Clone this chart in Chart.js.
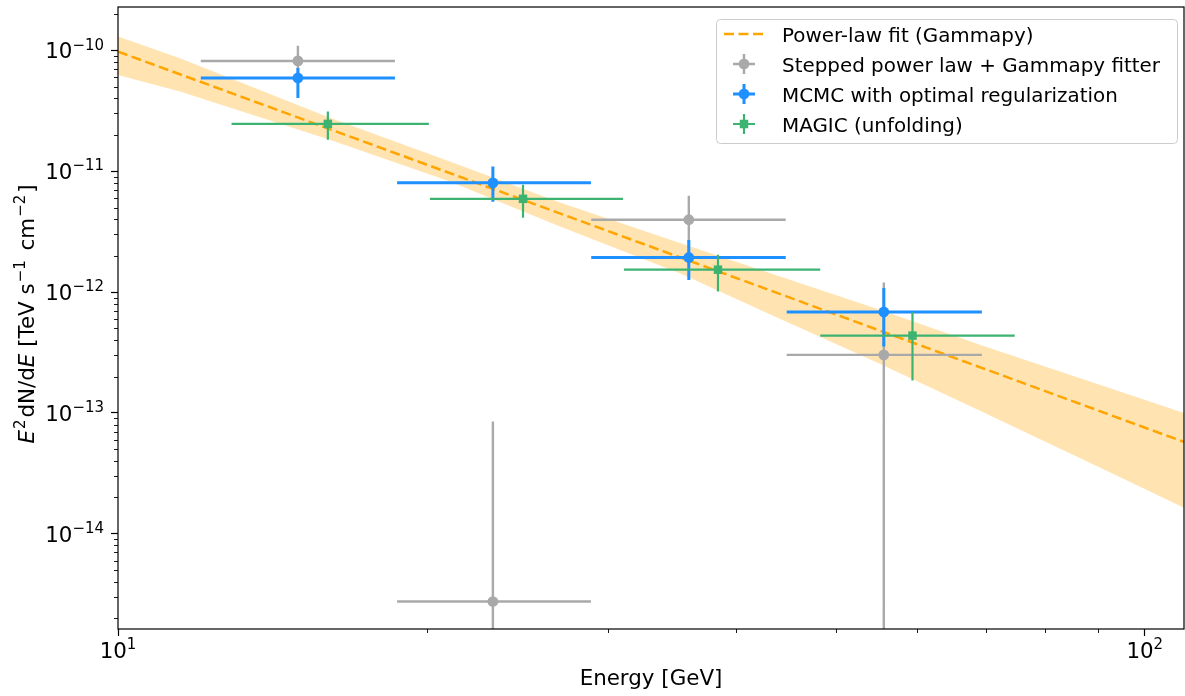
<!DOCTYPE html>
<html>
<head>
<meta charset="utf-8">
<script src="https://cdn.jsdelivr.net/npm/chart.js@4.4.1/dist/chart.umd.min.js"></script>
<style>
    html, body { margin: 0; padding: 0; background: #fff; }
    #wrap { width: 1185px; height: 696px; }
</style>
</head>
<body>
<div id="wrap"><canvas id="sed-chart_" width="1185" height="696"></canvas></div>
<script>
// energy in GeV, flux as E^2 dN/dE in TeV s^-1 cm^-2

const fitEnergy = [10, 109.2];
const fitFlux = [9.75e-11, 5.75e-14];

const bandEnergy = [10, 11.49, 16.08, 21.05, 26.94, 35.26, 42.18, 55.2, 69.1, 90.4, 109.2];
const bandHigh = [1.30e-10, 8.6e-11, 2.76e-11, 1.20e-11, 5.5e-12, 2.55e-12, 1.53e-12, 7.14e-13, 3.66e-13, 1.71e-13, 1.0e-13];
const bandLow = [6.25e-11, 4.55e-11, 1.82e-11, 8.2e-12, 3.48e-12, 1.43e-12, 7.13e-13, 2.55e-13, 1.04e-13, 3.53e-14, 1.64e-14];

// stepped power law + gammapy fitter (0 = lower error runs off the axis)
const stepE = [14.97, 23.18, 35.97, 55.7];
const stepEmin = [12.04, 18.7, 28.9, 44.8];
const stepEmax = [18.61, 28.88, 44.7, 69.4];
const stepFlux = [8.16e-11, 2.75e-15, 3.96e-12, 3.02e-13];
const stepFluxMin = [5.42e-11, 0, 1.67e-12, 0];
const stepFluxMax = [1.09e-10, 8.5e-14, 6.25e-12, 1.2e-12];

// MCMC with optimal regularization
const mcmcE = [14.97, 23.18, 35.97, 55.7];
const mcmcEmin = [12.04, 18.7, 28.9, 44.8];
const mcmcEmax = [18.61, 28.88, 44.7, 69.4];
const mcmcFlux = [5.9e-11, 8.0e-12, 1.93e-12, 6.84e-13];
const mcmcFluxMin = [4.03e-11, 5.57e-12, 1.26e-12, 3.55e-13];
const mcmcFluxMax = [7.14e-11, 1.09e-11, 2.69e-12, 1.08e-12];

// MAGIC unfolding
const magicE = [16.01, 24.8, 38.4, 59.4];
const magicEmin = [12.9, 20.13, 31.1, 48.3];
const magicEmax = [20.08, 31.03, 48.3, 74.7];
const magicFlux = [2.46e-11, 5.9e-12, 1.53e-12, 4.36e-13];
const magicFluxMin = [1.82e-11, 4.11e-12, 1.01e-12, 1.85e-13];
const magicFluxMax = [3.11e-11, 7.71e-12, 2.03e-12, 6.84e-13];

// tick labels as [base, exponent]
const xTickValues = [10, 100];
const xTickLabels = [['10', '1'], ['10', '2']];
const yTickValues = [1e-14, 1e-13, 1e-12, 1e-11, 1e-10];
const yTickLabels = [['10', '−14'], ['10', '−13'], ['10', '−12'], ['10', '−11'], ['10', '−10']];

const legendLabels = ['Power-law fit (Gammapy)', 'Stepped power law + Gammapy fitter',
    'MCMC with optimal regularization', 'MAGIC (unfolding)'];

const FONT = 'DejaVu Sans';
const FS = 21.4;
const ORANGE = '#ffa500';
const GREY = '#a9a9a9';
const BLUE = '#1e90ff';
const GREEN = '#3cb371';

function pts(xs, ys) {
    return xs.map((x, i) => ({x: x, y: ys[i]}));
}

function minorTicks(lo, hi) {
    const out = [];
    for (let d = Math.floor(Math.log10(lo)); d <= Math.ceil(Math.log10(hi)); d++) {
        for (let m = 2; m <= 9; m++) {
            const v = m * Math.pow(10, d);
            if (v > lo && v < hi) out.push(v);
        }
    }
    return out;
}

// text with italic / superscript pieces; align: 'center' | 'right'
function drawRich(ctx, parts, x, y, size, align) {
    let w = 0;
    const items = parts.map(p => {
        const s = p.sup ? size * 0.7 : size;
        const font = (p.it ? 'italic ' : '') + s + 'px "' + FONT + '"';
        ctx.font = font;
        const width = ctx.measureText(p.t).width + (p.gap || 0);
        w += width;
        return {t: p.t, font: font, width: width, dy: p.sup ? -size * 0.4 : 0};
    });
    let cx = align === 'right' ? x - w : x - w / 2;
    ctx.textAlign = 'left';
    ctx.textBaseline = 'alphabetic';
    items.forEach(it => {
        ctx.font = it.font;
        ctx.fillText(it.t, cx, y + it.dy);
        cx += it.width;
    });
}

// error bars, drawn just under each series' markers
const errorBars = {
    id: 'errorBars',
    beforeDatasetDraw(chart, args) {
        const ds = chart.data.datasets[args.index];
        if (!ds.err) return;
        const {ctx, chartArea: a} = chart;
        const xs = chart.scales.x, ys = chart.scales.y;
        const e = ds.err;
        ctx.save();
        ctx.beginPath();
        ctx.rect(a.left, a.top, a.right - a.left, a.bottom - a.top);
        ctx.clip();
        ctx.strokeStyle = ds.backgroundColor;
        ctx.lineWidth = e.width;
        ctx.beginPath();
        ds.data.forEach((p, i) => {
            const px = xs.getPixelForValue(p.x);
            const py = ys.getPixelForValue(p.y);
            ctx.moveTo(xs.getPixelForValue(e.xmin[i]), py);
            ctx.lineTo(xs.getPixelForValue(e.xmax[i]), py);
            const lo = e.ymin[i] > 0 ? ys.getPixelForValue(e.ymin[i]) : a.bottom + 5;
            ctx.moveTo(px, lo);
            ctx.lineTo(px, ys.getPixelForValue(e.ymax[i]));
        });
        ctx.stroke();
        ctx.restore();
    }
};

function drawMarker(ctx, style, color, r, x, y) {
    ctx.fillStyle = color;
    ctx.beginPath();
    if (style === 'rect') {
        const s = r * Math.SQRT1_2;
        ctx.rect(x - s, y - s, 2 * s, 2 * s);
    } else {
        ctx.arc(x, y, r, 0, Math.PI * 2);
    }
    ctx.fill();
}

const frameAndText = {
    id: 'frameAndText',
    afterDatasetsDraw(chart) {
        const {ctx, chartArea: a} = chart;
        const xs = chart.scales.x, ys = chart.scales.y;
        ctx.save();
        // minor ticks
        ctx.strokeStyle = '#000';
        ctx.lineWidth = 0.9;
        ctx.beginPath();
        minorTicks(xs.min, xs.max).forEach(v => {
            const px = Math.round(xs.getPixelForValue(v)) + 0.5;
            ctx.moveTo(px, a.bottom);
            ctx.lineTo(px, a.bottom + 4);
        });
        minorTicks(ys.min, ys.max).forEach(v => {
            const py = Math.round(ys.getPixelForValue(v)) + 0.5;
            ctx.moveTo(a.left, py);
            ctx.lineTo(a.left - 4, py);
        });
        ctx.stroke();

        // spines
        ctx.lineWidth = 1.2;
        ctx.strokeRect(a.left, a.top, a.right - a.left, a.bottom - a.top);

        // tick labels
        ctx.fillStyle = '#000';
        xTickValues.forEach((v, i) => {
            drawRich(ctx, [{t: xTickLabels[i][0]}, {t: xTickLabels[i][1], sup: true}],
                xs.getPixelForValue(v), a.bottom + 29, FS, 'center');
        });
        yTickValues.forEach((v, i) => {
            drawRich(ctx, [{t: yTickLabels[i][0]}, {t: yTickLabels[i][1], sup: true}],
                a.left - 14, ys.getPixelForValue(v) + 7.8, FS, 'right');
        });

        // axis titles
        drawRich(ctx, [{t: 'Energy [GeV]'}], (a.left + a.right) / 2, 685, FS, 'center');
        ctx.save();
        ctx.translate(33.5, (a.top + a.bottom) / 2 - 4);
        ctx.rotate(-Math.PI / 2);
        drawRich(ctx, [
            {t: 'E', it: true, gap: 1}, {t: '2', sup: true, gap: 2}, {t: 'dN/d'}, {t: 'E', it: true},
            {t: ' [TeV s', gap: 1}, {t: '−1', sup: true, gap: 3}, {t: ' cm', gap: 1}, {t: '−2', sup: true, gap: 2},
            {t: ']'}
        ], 0, 0, FS, 'center');
        ctx.restore();

        // legend
        const bx = a.right - 468, by = a.top + 12, bw = 461, bh = 124;
        ctx.beginPath();
        ctx.roundRect(bx + 0.5, by + 0.5, bw, bh, 4);
        ctx.fillStyle = 'rgba(255,255,255,0.8)';
        ctx.fill();
        ctx.strokeStyle = '#cccccc';
        ctx.lineWidth = 1;
        ctx.stroke();

        const items = chart.data.datasets.filter(d => d.legend);
        items.forEach((d, i) => {
            const cy = by + 15 + i * 30;
            const hx0 = bx + 8, hx1 = bx + 48, hc = (hx0 + hx1) / 2;
            ctx.save();
            if (d.err) {
                ctx.strokeStyle = d.backgroundColor;
                ctx.lineWidth = d.err.width;
                ctx.beginPath();
                ctx.moveTo(hc - 11, cy); ctx.lineTo(hc + 11, cy);
                ctx.moveTo(hc, cy - 10); ctx.lineTo(hc, cy + 10);
                ctx.stroke();
                drawMarker(ctx, d.pointStyle, d.backgroundColor, d.pointRadius, hc, cy);
            } else {
                ctx.strokeStyle = d.borderColor;
                ctx.lineWidth = d.borderWidth;
                ctx.setLineDash(d.borderDash);
                ctx.beginPath();
                ctx.moveTo(hx0, cy); ctx.lineTo(hx1, cy);
                ctx.stroke();
            }
            ctx.restore();
            ctx.fillStyle = '#000';
            ctx.font = '19.9px "' + FONT + '"';
            ctx.textAlign = 'left';
            ctx.textBaseline = 'alphabetic';
            ctx.fillText(d.label, bx + 66, cy + 7.5);
        });
        ctx.restore();
    }
};

const ctx1 = document.getElementById('sed-chart_');

new Chart(ctx1, {
    type: 'scatter',
    data: {
        datasets: [
            {
                type: 'line',
                label: 'band high',
                data: pts(bandEnergy, bandHigh),
                borderWidth: 0,
                pointRadius: 0,
                fill: false,
                order: 10
            },
            {
                type: 'line',
                label: 'band low',
                data: pts(bandEnergy, bandLow),
                borderWidth: 0,
                pointRadius: 0,
                fill: '-1',
                backgroundColor: 'rgba(255, 165, 0, 0.3)',
                order: 9
            },
            {
                type: 'line',
                label: legendLabels[0],
                legend: true,
                data: pts(fitEnergy, fitFlux),
                borderColor: ORANGE,
                borderWidth: 2.5,
                borderDash: [10, 4.5],
                pointRadius: 0,
                tension: 0,
                fill: false,
                order: 5
            },
            {
                label: legendLabels[1],
                legend: true,
                data: pts(stepE, stepFlux),
                backgroundColor: GREY,
                pointStyle: 'circle',
                pointRadius: 5.4,
                pointBorderWidth: 0,
                err: {xmin: stepEmin, xmax: stepEmax, ymin: stepFluxMin, ymax: stepFluxMax, width: 2.4},
                order: 4
            },
            {
                label: legendLabels[2],
                legend: true,
                data: pts(mcmcE, mcmcFlux),
                backgroundColor: BLUE,
                pointStyle: 'circle',
                pointRadius: 5.4,
                pointBorderWidth: 0,
                err: {xmin: mcmcEmin, xmax: mcmcEmax, ymin: mcmcFluxMin, ymax: mcmcFluxMax, width: 3},
                order: 3
            },
            {
                label: legendLabels[3],
                legend: true,
                data: pts(magicE, magicFlux),
                backgroundColor: GREEN,
                pointStyle: 'rect',
                pointRadius: 6,
                pointBorderWidth: 0,
                err: {xmin: magicEmin, xmax: magicEmax, ymin: magicFluxMin, ymax: magicFluxMax, width: 2.2},
                order: 2
            }
        ]
    },
    options: {
        responsive: false,
        animation: false,
        layout: {
            autoPadding: false,
            padding: {top: 7, right: 1, left: 0, bottom: 0}
        },
        scales: {
            x: {
                type: 'logarithmic',
                min: 10,
                max: 109.2,
                bounds: 'data',
                afterBuildTicks: (scale) => {
                    scale.ticks = xTickValues.map(v => ({value: v}));
                },
                afterFit: (scale) => {
                    scale.height = 67;
                    scale.paddingLeft = 0;
                    scale.paddingRight = 0;
                },
                ticks: {display: false},
                grid: {
                    drawOnChartArea: false,
                    drawTicks: true,
                    tickLength: 7,
                    tickColor: '#000',
                    tickWidth: 1.2
                },
                border: {display: false}
            },
            y: {
                type: 'logarithmic',
                min: 1.63e-15,
                max: 2.28e-10,
                bounds: 'data',
                afterBuildTicks: (scale) => {
                    scale.ticks = yTickValues.map(v => ({value: v}));
                },
                afterFit: (scale) => {
                    scale.width = 118;
                    scale.paddingTop = 0;
                    scale.paddingBottom = 0;
                },
                ticks: {display: false},
                grid: {
                    drawOnChartArea: false,
                    drawTicks: true,
                    tickLength: 7,
                    tickColor: '#000',
                    tickWidth: 1.2
                },
                border: {display: false}
            }
        },
        plugins: {
            legend: {display: false},
            tooltip: {enabled: false}
        }
    },
    plugins: [errorBars, frameAndText]
});
</script>
</body>
</html>
